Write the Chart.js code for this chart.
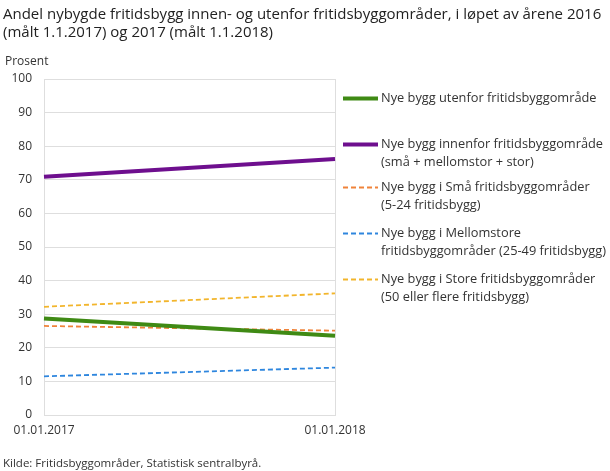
<!DOCTYPE html>
<html>
<head>
<meta charset="utf-8">
<script src="https://cdn.jsdelivr.net/npm/chart.js@4/dist/chart.umd.min.js"></script>
<style>
  html, body { margin:0; padding:0; background:#fff; }
  body { width:610px; height:471px; position:relative; overflow:hidden; font-family:"Open Sans", sans-serif; color:#222; }
  #c { position:absolute; left:0; top:0; }
  .abs { position:absolute; white-space:nowrap; }
  #title { left:3px; top:4px; font-size:15px; line-height:18px; color:#222; }
  #unit { left:5px; top:52px; font-size:12px; color:#333; }
  #src { left:3px; top:455px; font-size:11.5px; color:#333; }
  .leg { position:absolute; left:343px; font-size:12.8px; line-height:17.5px; color:#333; }
  .leg svg { position:absolute; left:0; }
  .leg span { position:absolute; left:38px; top:0; white-space:nowrap; }
</style>
</head>
<body>
<canvas id="c" width="610" height="471"></canvas>
<div id="title" class="abs">Andel nybygde fritidsbygg innen- og utenfor fritidsbyggområder, i løpet av årene 2016<br>(målt 1.1.2017) og 2017 (målt 1.1.2018)</div>
<div id="unit" class="abs">Prosent</div>
<div id="legend"></div>
<div id="src" class="abs">Kilde: Fritidsbyggområder, Statistisk sentralbyrå.</div>
<script>
const categories = ["01.01.2017", "01.01.2018"];
const seriesNames = [
  ["Nye bygg utenfor fritidsbyggområde"],
  ["Nye bygg innenfor fritidsbyggområde", "(små + mellomstor + stor)"],
  ["Nye bygg i Små fritidsbyggområder", "(5-24 fritidsbygg)"],
  ["Nye bygg i Mellomstore", "fritidsbyggområder (25-49 fritidsbygg)"],
  ["Nye bygg i Store fritidsbyggområder", "(50 eller flere fritidsbygg)"]
];
const utenfor = [28.7, 23.6];
const innenfor = [70.9, 76.2];
const smaa = [26.5, 25.1];
const mellomstore = [11.5, 14.1];
const store = [32.2, 36.2];
const yTicks = [0, 10, 20, 30, 40, 50, 60, 70, 80, 90, 100];

const seriesValues = [utenfor, innenfor, smaa, mellomstore, store];
const colors = ["#3f8a14", "#6e0f8e", "#f0833a", "#2e86de", "#f2b52c"];
const widths = [4, 4, 1.8, 1.8, 1.8];
const dashes = [[], [], [5, 3], [5, 3], [5, 3]];
const legendTop = [89, 135, 178, 224, 270];

const datasets = seriesValues.map((v, i) => ({
  label: seriesNames[i].join(" "),
  data: v,
  borderColor: colors[i],
  backgroundColor: colors[i],
  borderWidth: widths[i],
  borderDash: dashes[i],
  pointRadius: 0,
  pointHoverRadius: 0,
  tension: 0,
  fill: false,
  order: [1, 0, 3, 4, 2][i]
}));

new Chart(document.getElementById("c"), {
  type: "line",
  data: { labels: categories, datasets },
  options: {
    responsive: false,
    animation: false,
    layout: { padding: { left: 0, top: 79, right: 275, bottom: 30 } },
    plugins: { legend: { display: false }, tooltip: { enabled: false }, title: { display: false } },
    scales: {
      x: {
        offset: false,
        grid: { color: "#dedede", drawTicks: false },
        border: { display: true, color: "#dedede" },
        ticks: { color: "#333", font: { family: "Open Sans", size: 12 }, padding: 8, maxRotation: 0, autoSkip: false },
        afterFit: (s) => { s.height = 26; }
      },
      y: {
        min: 0, max: 100,
        afterBuildTicks: (s) => { s.ticks = yTicks.map(v => ({ value: v })); },
        grid: { color: "#dedede", drawTicks: false },
        border: { display: true, color: "#dedede" },
        ticks: { color: "#333", font: { family: "Open Sans", size: 12 }, padding: 12 },
        afterFit: (s) => { s.width = 44; }
      }
    }
  }
});

const leg = document.getElementById("legend");
seriesNames.forEach((lines, i) => {
  const d = document.createElement("div");
  d.className = "leg";
  d.style.top = legendTop[i] + "px";
  const dash = dashes[i].length ? `stroke-dasharray="${dashes[i].join(",")}"` : "";
  d.innerHTML = `<svg width="36" height="18" style="top:0"><line x1="0" y1="9.5" x2="35" y2="9.5" stroke="${colors[i]}" stroke-width="${dashes[i].length ? 1.8 : 4}" ${dash}/></svg><span>${lines.join("<br>")}</span>`;
  leg.appendChild(d);
});
</script>
</body>
</html>
